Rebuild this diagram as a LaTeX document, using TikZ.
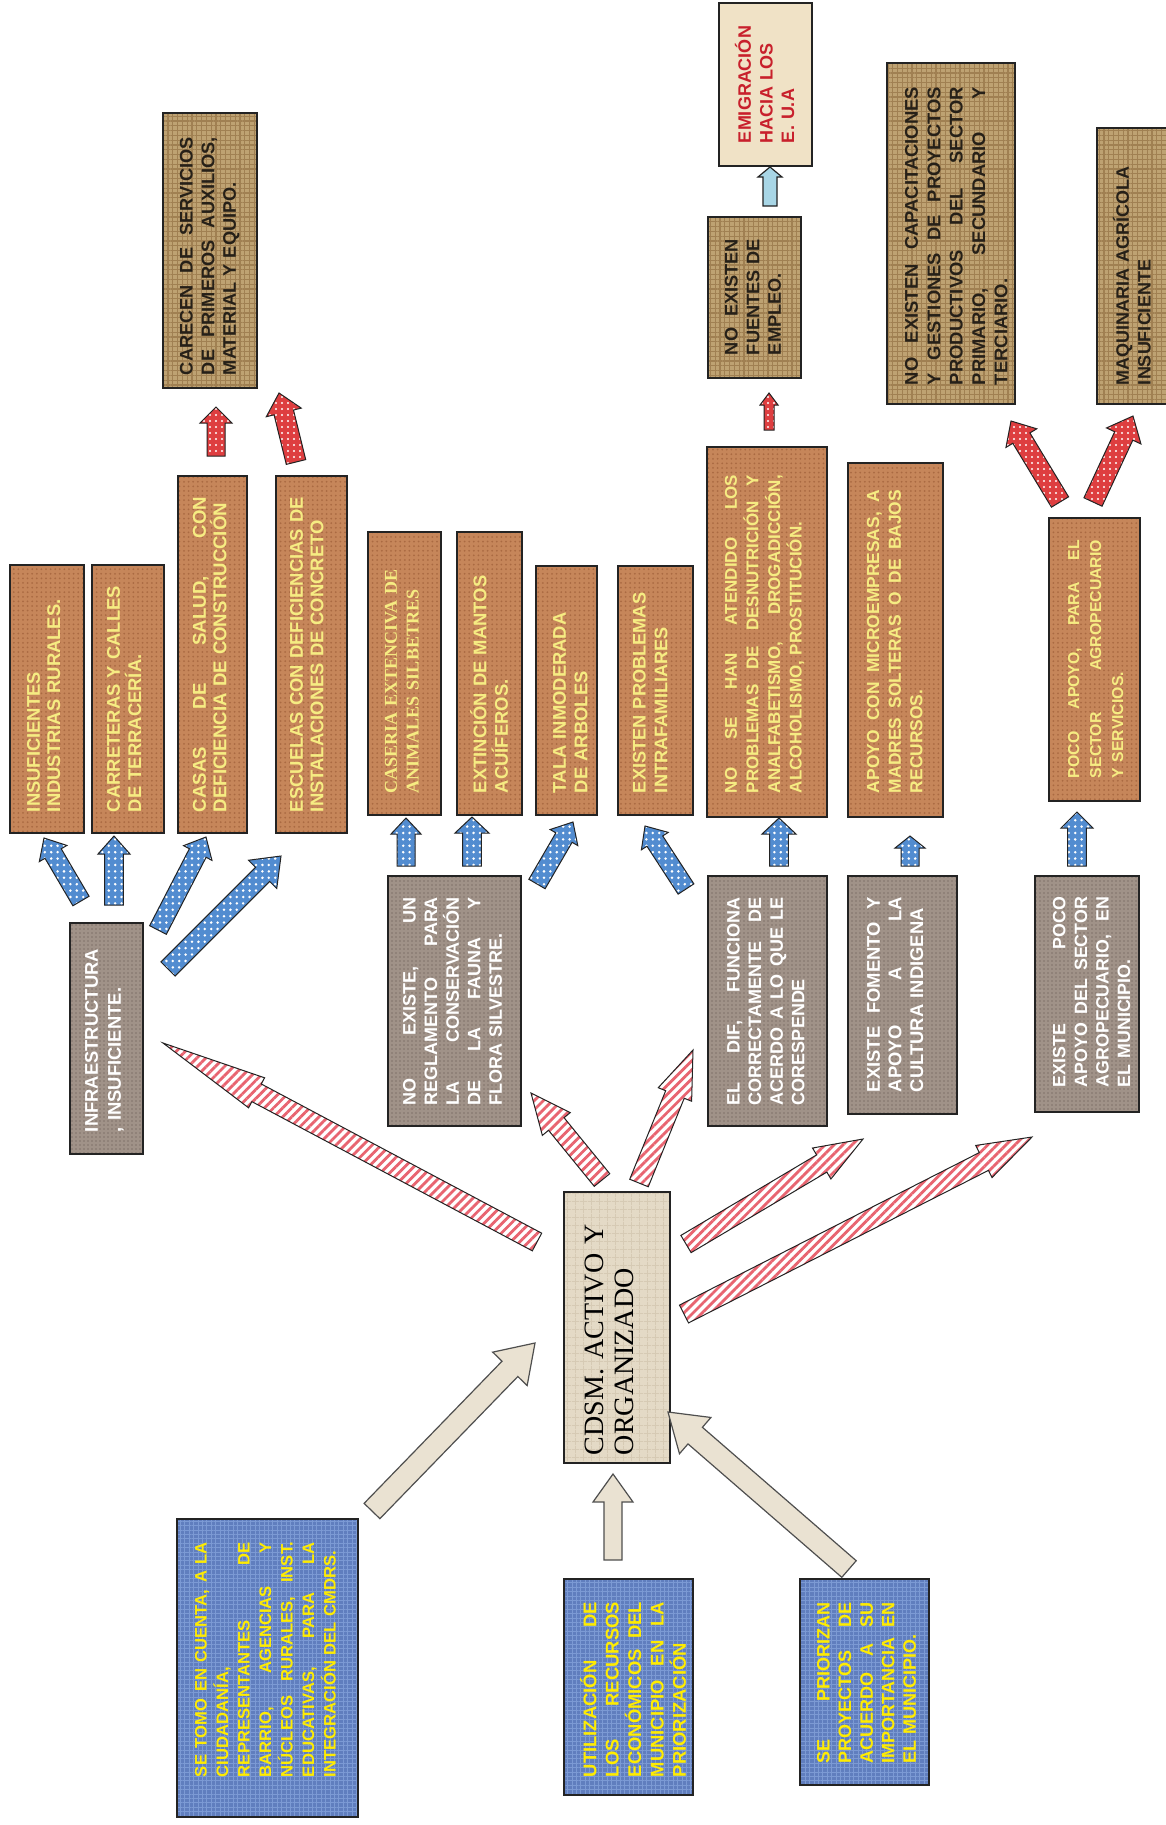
\documentclass[tikz,border=0pt]{standalone}
\usepackage{fontspec}
\setmainfont{Liberation Sans}
\newfontfamily\tnr{Liberation Serif}
\usetikzlibrary{calc,patterns.meta}
\definecolor{cork}{RGB}{198,134,90}
\definecolor{corkdark}{RGB}{170,106,66}
\definecolor{burlap}{RGB}{190,162,114}
\definecolor{burlapdark}{RGB}{160,128,82}
\definecolor{granite}{RGB}{160,146,136}
\definecolor{granitedark}{RGB}{128,114,106}
\definecolor{denim}{RGB}{96,126,190}
\definecolor{denimlight}{RGB}{124,154,212}
\definecolor{cream}{RGB}{240,226,198}
\definecolor{paper}{RGB}{228,218,198}
\definecolor{paperdark}{RGB}{214,202,180}
\definecolor{ytext}{RGB}{246,236,130}
\definecolor{yblue}{RGB}{255,236,0}
\definecolor{dtext}{RGB}{38,32,24}
\definecolor{redtext}{RGB}{200,32,44}
\definecolor{ablue}{RGB}{82,140,208}
\definecolor{ared}{RGB}{222,62,64}
\definecolor{astripe}{RGB}{232,100,112}
\definecolor{abeige}{RGB}{234,226,210}
\definecolor{alight}{RGB}{168,214,230}
\definecolor{edge}{RGB}{35,35,35}
\newcommand{\bx}[6]{\node[#6, anchor=north west, minimum width={(#4-#2)*0.5pt}, minimum height={(#5-#3)*0.5pt}] (#1) at (#2,-#3) {};}
\newcommand{\bt}[7]{\node[txt, #6, rotate=90, anchor=north west, text width={#5*0.5pt}] (#1) at ($(#2.south west)+(#3,#4)$) {#7};}
\newcommand{\barrow}[6]{%
  \path ($(#3)!#6!(#2)$) coordinate (bh);
  \draw[#1] ($(#2)!#4!90:(#3)$) -- ($(bh)!#4!90:(#3)$) -- ($(bh)!#5!90:(#3)$) -- (#3) -- ($(bh)!#5!-90:(#3)$) -- ($(bh)!#4!-90:(#3)$) -- ($(#2)!#4!-90:(#3)$) -- cycle;}
\tikzset{
  box/.style={draw=edge, line width=0.8pt, inner sep=0pt, outer sep=0pt},
  corkbox/.style={box, preaction={fill=cork}, pattern={Dots[distance=2.3pt, radius=0.5pt]}, pattern color=corkdark},
  burlapbox/.style={box, preaction={fill=burlap}, pattern={Hatch[angle=0, distance=2.4pt, line width=0.55pt]}, pattern color=burlapdark},
  granitebox/.style={box, preaction={fill=granite}, pattern={Dots[distance=2pt, radius=0.45pt]}, pattern color=granitedark},
  denimbox/.style={box, preaction={fill=denim}, pattern={Hatch[angle=0, distance=2.2pt, line width=0.5pt]}, pattern color=denimlight},
  creambox/.style={box, fill=cream},
  paperbox/.style={box, preaction={fill=paper}, pattern={Hatch[angle=0, distance=4pt, line width=0.4pt]}, pattern color=paperdark},
  txt/.style={inner sep=0pt, outer sep=0pt, align=left},
  fs/.style 2 args={font=\fontsize{#1}{#2}\selectfont\bfseries},
  sfs/.style 2 args={font=\tnr\fontsize{#1}{#2}\selectfont\bfseries},
  dark/.style={text=dtext}, yel/.style={text=ytext}, wht/.style={text=white},
  yb/.style={text=yblue}, redt/.style={text=redtext},
  bluearr/.style={draw=edge, line width=0.5pt, preaction={fill=ablue}, pattern={Dots[distance=3.2pt, radius=0.7pt]}, pattern color=white},
  reddot/.style={draw=edge, line width=0.5pt, preaction={fill=ared}, pattern={Dots[distance=3pt, radius=0.6pt]}, pattern color=white},
  stripe/.style={draw=edge, line width=0.5pt, preaction={fill=white}, pattern={Lines[angle=45, distance=3.2pt, line width=1.4pt]}, pattern color=astripe},
  beige/.style={draw=edge!80, line width=0.6pt, fill=abeige},
  lightarr/.style={draw=edge, line width=0.6pt, fill=alight}
}
\begin{document}
\begin{tikzpicture}[x=0.5pt,y=0.5pt]
\useasboundingbox (0,0) rectangle (1166,-1825);
\fill[white] (0,0) rectangle (1166,-1825);
% boxes
\bx{carecen}{163}{113}{257}{388}{burlapbox}
\bx{emig}{719}{3}{812}{166}{creambox}
\bx{fuentes}{708}{217}{801}{378}{burlapbox}
\bx{capac}{887}{63}{1015}{404}{burlapbox}
\bx{maquin}{1097}{128}{1175}{404}{burlapbox}
\bx{insuf}{10}{565}{84}{833}{corkbox}
\bx{carret}{92}{565}{164}{833}{corkbox}
\bx{casas}{178}{476}{247}{833}{corkbox}
\bx{escuelas}{276}{476}{347}{833}{corkbox}
\bx{caseria}{368}{532}{441}{815}{corkbox}
\bx{extincion}{457}{532}{522}{815}{corkbox}
\bx{tala}{536}{566}{597}{815}{corkbox}
\bx{problemas}{618}{566}{693}{815}{corkbox}
\bx{noseh}{707}{447}{827}{817}{corkbox}
\bx{micro}{848}{463}{943}{817}{corkbox}
\bx{pocoapoyo}{1049}{518}{1140}{801}{corkbox}
\bx{infra}{70}{923}{143}{1154}{granitebox}
\bx{reglam}{388}{876}{521}{1126}{granitebox}
\bx{dif}{708}{876}{827}{1126}{granitebox}
\bx{fomento}{848}{876}{957}{1114}{granitebox}
\bx{sector}{1035}{876}{1139}{1112}{granitebox}
\bx{cdsm}{564}{1192}{670}{1463}{paperbox}
\bx{setomo}{177}{1519}{358}{1817}{denimbox}
\bx{utiliz}{564}{1579}{693}{1795}{denimbox}
\bx{prior}{800}{1579}{929}{1785}{denimbox}
% texts
\bt{tcarecen}{carecen}{17}{13}{238}{dark, fs={9.1}{10.8}}{CARECEN\hfill DE\hfill SERVICIOS\\DE\hfill PRIMEROS\hfill AUXILIOS,\\MATERIAL Y EQUIPO.}
\bt{tfuentes}{fuentes}{17}{23}{116}{dark, fs={9.1}{10.8}}{NO\hfill EXISTEN\\FUENTES\hfill DE\\EMPLEO.}
\bt{temig}{emig}{16}{23}{120}{redt, fs={9}{10.8}}{EMIGRACIÓN\\HACIA LOS\\E. U.A}
\bt{tcapac}{capac}{18}{19}{298}{dark, fs={9.2}{11.2}}{NO\hfill EXISTEN\hfill CAPACITACIONES\\Y\hfill GESTIONES\hfill DE\hfill PROYECTOS\\PRODUCTIVOS\hfill DEL\hfill SECTOR\\PRIMARIO,\hfill SECUNDARIO\hfill Y\\TERCIARIO.}
\bt{tmaquin}{maquin}{16}{19}{250}{dark, fs={9}{10.8}}{MAQUINARIA AGRÍCOLA\\INSUFICIENTE}
\bt{tinsuf}{insuf}{17}{21}{240}{yel, fs={9.2}{10.2}}{INSUFICIENTES\\INDUSTRIAS RURALES.}
\bt{tcarret}{carret}{15}{21}{240}{yel, fs={9.2}{10.6}}{CARRETERAS Y CALLES\\DE TERRACERÍA.}
\bt{tcasas}{casas}{15}{21}{315}{yel, fs={9.3}{10.2}}{CASAS\hfill DE\hfill SALUD,\hfill CON\\DEFICIENCIA DE CONSTRUCCIÓN}
\bt{tescuelas}{escuelas}{14}{21}{320}{yel, fs={9.2}{10.2}}{ESCUELAS CON DEFICIENCIAS DE\\INSTALACIONES DE CONCRETO}
\bt{tcaseria}{caseria}{17}{22}{240}{yel, sfs={9}{10.8}}{CASERIA EXTENCIVA DE\\ANIMALES SILBETRES}
\bt{textincion}{extincion}{13}{22}{240}{yel, fs={9.2}{10.8}}{EXTINCIÓN DE MANTOS\\ACUÍFEROS.}
\bt{ttala}{tala}{17}{22}{200}{yel, fs={9.2}{10.8}}{TALA INMODERADA\\DE ARBOLES}
\bt{tproblemas}{problemas}{15}{22}{210}{yel, fs={9.1}{10.8}}{EXISTEN PROBLEMAS\\INTRAFAMILIARES}
\bt{tnoseh}{noseh}{18}{24}{318}{yel, fs={8.5}{10.8}}{NO\hfill SE\hfill HAN\hfill ATENDIDO\hfill LOS\\PROBLEMAS\hfill DE\hfill DESNUTRICIÓN\hfill Y\\ANALFABETISMO,\hfill DROGADICCIÓN,\\ALCOHOLISMO, PROSTITUCIÓN.}
\bt{tmicro}{micro}{19}{24}{303}{yel, fs={8.7}{10.8}}{APOYO\hfill CON\hfill MICROEMPRESAS,\hfill A\\MADRES\hfill SOLTERAS\hfill O\hfill DE\hfill BAJOS\\RECURSOS.}
\bt{tpoco}{pocoapoyo}{19}{23}{238}{yel, fs={7.9}{11}}{POCO\hfill APOYO,\hfill PARA\hfill EL\\SECTOR\hfill AGROPECUARIO\\Y SERVICIOS.}
\bt{tinfra}{infra}{15}{22}{200}{wht, fs={9.2}{11.5}}{INFRAESTRUCTURA\\, INSUFICIENTE.}
\bt{treglam}{reglam}{15}{21}{208}{wht, fs={9}{10.8}}{NO\hfill EXISTE,\hfill UN\\REGLAMENTO\hfill PARA\\LA\hfill CONSERVACIÓN\\DE\hfill LA\hfill FAUNA\hfill Y\\FLORA SILVESTRE.}
\bt{tdif}{dif}{19}{21}{208}{wht, fs={9}{10.8}}{EL\hfill DIF,\hfill FUNCIONA\\CORRECTAMENTE\hfill DE\\ACERDO\hfill A\hfill LO\hfill QUE\hfill LE\\CORESPENDE}
\bt{tfomento}{fomento}{19}{22}{195}{wht, fs={9.2}{10.8}}{EXISTE\hfill FOMENTO\hfill Y\\APOYO\hfill A\hfill LA\\CULTURA INDIGENA}
\bt{tsector}{sector}{18}{25}{190}{wht, fs={8.9}{10.8}}{EXISTE\hfill POCO\\APOYO\hfill DEL\hfill SECTOR\\AGROPECUARIO,\hfill EN\\EL MUNICIPIO.}
\bt{tcdsm}{cdsm}{21}{8}{250}{text=black, font=\tnr\fontsize{14}{15}\selectfont}{CDSM. ACTIVO Y\\ORGANIZADO}
\bt{tsetomo}{setomo}{18}{40}{235}{yb, fs={8.3}{10.75}}{SE\hfill TOMO\hfill EN\hfill CUENTA,\hfill A\hfill LA\\CIUDADANÍA,\\REPRESENTANTES\hfill DE\\BARRIO,\hfill AGENCIAS\hfill Y\\NÚCLEOS\hfill RURALES,\hfill INST.\\EDUCATIVAS,\hfill PARA\hfill LA\\INTEGRACIÓN DEL CMDRS.}
\bt{tutiliz}{utiliz}{16}{18}{175}{yb, fs={9.2}{11.2}}{UTILIZACIÓN\hfill DE\\LOS\hfill RECURSOS\\ECONÓMICOS\hfill DEL\\MUNICIPIO\hfill EN\hfill LA\\PRIORIZACIÓN}
\bt{tprior}{prior}{17}{22}{161}{yb, fs={9}{10.8}}{SE\hfill PRIORIZAN\\PROYECTOS\hfill DE\\ACUERDO\hfill A\hfill SU\\IMPORTANCIA\hfill EN\\EL MUNICIPIO.}
% arrow end points
\coordinate (b1s) at (81,-901);   \coordinate (b1e) at (44,-838);
\coordinate (b2s) at (114,-905);  \coordinate (b2e) at (114,-836);
\coordinate (b3s) at (158,-930);  \coordinate (b3e) at (206,-837);
\coordinate (b4s) at (168,-969);  \coordinate (b4e) at (281,-856);
\coordinate (b5s) at (406,-866);  \coordinate (b5e) at (406,-818);
\coordinate (b6s) at (472,-866);  \coordinate (b6e) at (472,-817);
\coordinate (b7s) at (537,-884);  \coordinate (b7e) at (573,-822);
\coordinate (b8s) at (686,-889);  \coordinate (b8e) at (645,-826);
\coordinate (b9s) at (779,-866);  \coordinate (b9e) at (779,-818);
\coordinate (b10s) at (910,-866); \coordinate (b10e) at (910,-836);
\coordinate (b11s) at (1077,-866);\coordinate (b11e) at (1077,-812);
\coordinate (r1s) at (216,-456);  \coordinate (r1e) at (216,-407);
\coordinate (r2s) at (296,-462);  \coordinate (r2e) at (279,-393);
\coordinate (r3s) at (769,-430);  \coordinate (r3e) at (769,-393);
\coordinate (r4s) at (1060,-502); \coordinate (r4e) at (1011,-421);
\coordinate (r5s) at (1093,-502); \coordinate (r5e) at (1133,-416);
\coordinate (s1s) at (537,-1242); \coordinate (s1e) at (163,-1043);
\coordinate (s2s) at (602,-1180); \coordinate (s2e) at (531,-1093);
\coordinate (s3s) at (639,-1183); \coordinate (s3e) at (693,-1050);
\coordinate (s4s) at (686,-1244); \coordinate (s4e) at (863,-1139);
\coordinate (s5s) at (684,-1314); \coordinate (s5e) at (1032,-1137);
\coordinate (g1s) at (372,-1511); \coordinate (g1e) at (535,-1343);
\coordinate (g2s) at (613,-1560); \coordinate (g2e) at (613,-1474);
\coordinate (g3s) at (849,-1569); \coordinate (g3e) at (668,-1412);
\coordinate (l1s) at (770,-206);  \coordinate (l1e) at (770,-167);
% arrows
\barrow{bluearr}{b1s}{b1e}{4.7pt}{8pt}{9pt}
\barrow{bluearr}{b2s}{b2e}{4.7pt}{8pt}{9pt}
\barrow{bluearr}{b3s}{b3e}{4.7pt}{8pt}{9pt}
\barrow{bluearr}{b4s}{b4e}{5pt}{10pt}{13pt}
\barrow{bluearr}{b5s}{b5e}{4.5pt}{7.5pt}{8pt}
\barrow{bluearr}{b6s}{b6e}{4.7pt}{8.5pt}{8pt}
\barrow{bluearr}{b7s}{b7e}{4.7pt}{8pt}{9pt}
\barrow{bluearr}{b8s}{b8e}{4.7pt}{8pt}{9pt}
\barrow{bluearr}{b9s}{b9e}{4.7pt}{8.5pt}{8pt}
\barrow{bluearr}{b10s}{b10e}{4.5pt}{7.5pt}{6pt}
\barrow{bluearr}{b11s}{b11e}{4.7pt}{8pt}{8pt}
\barrow{reddot}{r1s}{r1e}{4.5pt}{8pt}{8pt}
\barrow{reddot}{r2s}{r2e}{5pt}{9pt}{10pt}
\barrow{reddot}{r3s}{r3e}{2.5pt}{4.5pt}{6pt}
\barrow{reddot}{r4s}{r4e}{5pt}{9pt}{10pt}
\barrow{reddot}{r5s}{r5e}{5pt}{9.5pt}{11pt}
\barrow{stripe}{s1s}{s1e}{5pt}{8.5pt}{53pt}
\barrow{stripe}{s2s}{s2e}{5pt}{9pt}{20pt}
\barrow{stripe}{s3s}{s3e}{5pt}{9pt}{24pt}
\barrow{stripe}{s4s}{s4e}{5pt}{9pt}{24pt}
\barrow{stripe}{s5s}{s5e}{5pt}{9pt}{27pt}
\barrow{beige}{g1s}{g1e}{5.5pt}{12pt}{18pt}
\barrow{beige}{g2s}{g2e}{4.5pt}{10pt}{14pt}
\barrow{beige}{g3s}{g3e}{5.5pt}{12pt}{18pt}
\barrow{lightarr}{l1s}{l1e}{3.5pt}{6pt}{5pt}
\end{tikzpicture}
\end{document}
